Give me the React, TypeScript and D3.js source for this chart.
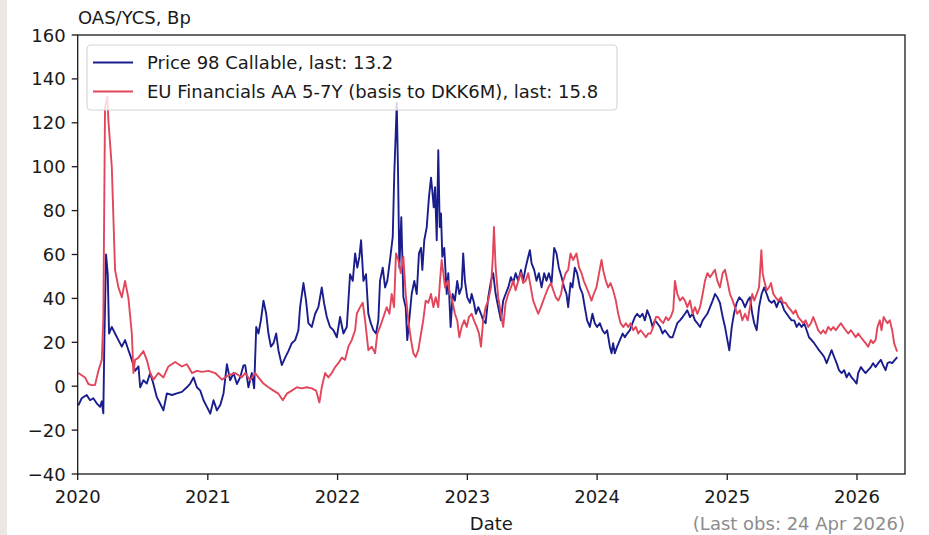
import React from "react";
import * as d3 from "d3";

// [decimal year, value in bp]
const priceCallable: [number, number][] = [
  [2020.005,-8.7],[2020.031,-5.5],[2020.069,-4],[2020.095,-6.4],[2020.120,-5.5],[2020.146,-7.8],[2020.172,-9.4],[2020.185,-6.9],[2020.197,-12.4],[2020.205,21],[2020.218,60],[2020.231,51],[2020.241,24],[2020.262,27],[2020.287,24],[2020.313,21],[2020.339,18],[2020.364,21],[2020.390,16.4],[2020.416,12],[2020.441,7],[2020.467,9],[2020.480,-0.5],[2020.505,2.7],[2020.531,1.2],[2020.557,6],[2020.582,1],[2020.608,-5],[2020.634,-8],[2020.659,-11],[2020.685,-3.3],[2020.724,-4],[2020.762,-3.3],[2020.801,-2.6],[2020.839,-0.5],[2020.865,1.2],[2020.890,4],[2020.916,-0.5],[2020.942,-2],[2020.967,-6.4],[2020.993,-9.4],
  [2021.019,-12.5],[2021.044,-6.4],[2021.070,-11],[2021.096,-8.6],[2021.121,-3.3],[2021.147,10],[2021.172,2.7],[2021.198,6],[2021.224,1],[2021.249,4],[2021.275,9.5],[2021.288,9.6],[2021.313,-0.5],[2021.339,6],[2021.357,-1],[2021.373,27],[2021.390,24],[2021.409,30],[2021.429,39],[2021.450,33],[2021.467,24],[2021.486,18],[2021.506,19.6],[2021.527,24],[2021.544,16.4],[2021.570,9.6],[2021.596,13],[2021.621,16],[2021.647,19.6],[2021.673,21],[2021.698,25.5],[2021.711,36],[2021.737,47],[2021.757,39],[2021.775,28.7],[2021.801,27],[2021.827,33],[2021.852,36],[2021.878,45],[2021.896,37.8],[2021.917,31.5],[2021.942,27],[2021.968,25.5],[2021.994,22.3],
  [2022.019,31.5],[2022.045,24],[2022.071,27],[2022.096,51],[2022.117,48],[2022.135,60.5],[2022.152,54],[2022.168,59],[2022.181,66.5],[2022.199,48],[2022.219,51],[2022.237,33],[2022.256,28.7],[2022.276,25.5],[2022.296,24],[2022.314,30],[2022.327,48],[2022.348,54],[2022.366,45],[2022.383,48],[2022.404,57.6],[2022.425,68],[2022.437,97],[2022.448,115],[2022.456,129],[2022.466,97],[2022.476,54],[2022.491,77],[2022.507,40.5],[2022.525,36],[2022.537,21],[2022.550,28.7],[2022.571,42],[2022.591,48],[2022.610,42],[2022.627,60.5],[2022.643,63],[2022.653,53],[2022.668,66.5],[2022.687,72.5],[2022.704,86],[2022.720,95],[2022.730,89],[2022.741,81.5],[2022.751,90.7],[2022.764,66.5],[2022.776,107.5],[2022.787,72.5],[2022.797,78.7],[2022.807,59],[2022.822,63],[2022.841,42],[2022.853,51.5],[2022.871,27],[2022.887,42],[2022.904,39],[2022.922,48],[2022.938,42],[2022.956,45],[2022.968,60.5],[2022.981,48],[2022.999,40.5],
  [2023.020,38],[2023.033,42],[2023.051,38],[2023.066,33],[2023.084,36],[2023.105,33],[2023.122,30],[2023.141,28.7],[2023.161,40.5],[2023.182,48],[2023.199,51.5],[2023.218,42],[2023.238,36],[2023.259,30],[2023.276,39],[2023.295,42],[2023.315,45],[2023.336,49.7],[2023.353,47],[2023.372,51.5],[2023.392,48],[2023.413,53],[2023.430,48],[2023.449,54],[2023.469,59],[2023.482,62],[2023.495,56],[2023.515,53],[2023.533,48],[2023.551,51.5],[2023.572,45],[2023.592,51.5],[2023.610,48],[2023.628,51.5],[2023.649,47],[2023.669,63],[2023.687,60.5],[2023.705,54],[2023.726,49.7],[2023.746,45],[2023.764,42],[2023.777,36],[2023.795,47],[2023.810,45],[2023.828,54],[2023.846,51.5],[2023.867,45],[2023.888,42],[2023.905,36],[2023.923,30],[2023.944,27],[2023.964,33],[2023.982,28.7],
  [2024.000,27],[2024.021,28.7],[2024.041,25.5],[2024.059,24],[2024.077,25.5],[2024.098,18],[2024.111,15],[2024.123,19.6],[2024.136,15],[2024.154,18],[2024.175,21],[2024.196,24],[2024.213,22.3],[2024.231,24],[2024.252,25.5],[2024.272,28.7],[2024.290,31.5],[2024.308,33],[2024.329,31.5],[2024.349,33],[2024.367,30],[2024.385,34.6],[2024.406,31.5],[2024.426,27],[2024.444,30],[2024.462,28.7],[2024.483,27],[2024.503,24],[2024.521,25.5],[2024.539,24],[2024.560,22.3],[2024.580,22.3],[2024.598,25.5],[2024.616,28.7],[2024.637,30],[2024.657,31.5],[2024.675,33],[2024.693,34.6],[2024.714,31.5],[2024.734,33],[2024.752,30],[2024.770,28.7],[2024.791,27],[2024.811,30],[2024.829,31.5],[2024.847,33],[2024.868,36],[2024.888,39],[2024.906,42],[2024.924,40.5],[2024.944,38],[2024.965,31.5],[2024.983,27],
  [2025.001,21],[2025.016,16.4],[2025.035,27],[2025.052,33],[2025.073,38],[2025.093,40.5],[2025.116,39],[2025.137,36],[2025.158,39],[2025.175,40.5],[2025.193,33],[2025.208,28.7],[2025.227,25.5],[2025.245,36],[2025.265,42],[2025.285,45],[2025.304,42],[2025.322,39],[2025.342,38],[2025.362,39],[2025.381,36],[2025.399,39],[2025.419,38],[2025.439,34.6],[2025.458,33],[2025.476,31.5],[2025.496,30],[2025.516,30],[2025.535,27],[2025.553,28.7],[2025.573,27],[2025.593,28.7],[2025.612,25.5],[2025.630,22.3],[2025.650,21],[2025.670,19.6],[2025.689,18],[2025.707,16.4],[2025.727,15],[2025.747,13.3],[2025.766,10.5],[2025.784,13.3],[2025.804,16.4],[2025.824,13.3],[2025.843,10.5],[2025.861,7.3],[2025.881,6],[2025.901,7.3],[2025.920,4],[2025.938,6],[2025.958,4],[2025.978,2.7],[2025.997,1.2],
  [2026.009,6],[2026.030,8.7],[2026.047,7.3],[2026.066,6],[2026.086,7.3],[2026.107,8.7],[2026.124,10.5],[2026.143,8.7],[2026.163,10.5],[2026.184,12],[2026.201,9.6],[2026.220,7.3],[2026.235,10.5],[2026.253,11],[2026.271,10.5],[2026.292,12],[2026.310,13.2],
];

const euFinancials: [number, number][] = [
  [2020.005,6],[2020.031,5],[2020.056,4],[2020.082,1],[2020.108,0.5],[2020.133,0.5],[2020.159,7],[2020.185,12],[2020.197,31],[2020.210,127],[2020.228,132],[2020.236,121],[2020.262,100],[2020.287,53],[2020.313,45],[2020.339,40.5],[2020.364,48],[2020.390,40],[2020.416,24],[2020.428,6],[2020.441,12],[2020.467,13],[2020.505,16],[2020.531,12],[2020.557,6],[2020.582,3],[2020.620,6],[2020.659,4],[2020.697,9],[2020.749,11],[2020.801,9],[2020.839,10],[2020.878,6],[2020.916,7],[2020.955,6.5],
  [2021.005,7],[2021.057,6],[2021.109,3],[2021.159,5],[2021.211,6],[2021.262,4],[2021.288,6],[2021.326,2.7],[2021.365,6],[2021.390,4],[2021.429,1.2],[2021.467,-0.5],[2021.506,-2],[2021.544,-3.4],[2021.578,-6.4],[2021.609,-3.4],[2021.647,-2],[2021.686,-0.5],[2021.724,-1],[2021.763,-0.5],[2021.801,-1],[2021.834,-2],[2021.860,-7.4],[2021.878,-0.5],[2021.904,6],[2021.929,4],[2021.955,6],[2021.981,8.7],
  [2022.006,10.5],[2022.032,13],[2022.058,12],[2022.083,18],[2022.109,21],[2022.135,25.5],[2022.148,33],[2022.173,36],[2022.194,38],[2022.212,30],[2022.237,16.4],[2022.263,18],[2022.289,15],[2022.306,24],[2022.327,27],[2022.353,31.5],[2022.379,36],[2022.399,33],[2022.417,42],[2022.435,36],[2022.450,60.5],[2022.468,57.5],[2022.487,51.5],[2022.507,59],[2022.525,42],[2022.545,30],[2022.566,21],[2022.584,15],[2022.602,13.3],[2022.622,16.4],[2022.643,24],[2022.660,30],[2022.679,39],[2022.699,38],[2022.720,42],[2022.738,36],[2022.756,40.5],[2022.776,36],[2022.789,48],[2022.802,57.5],[2022.815,51.5],[2022.828,45],[2022.849,48],[2022.866,42],[2022.884,39],[2022.904,33],[2022.922,30],[2022.938,22.3],[2022.956,27],[2022.976,30],[2022.995,27],
  [2023.012,31.5],[2023.033,33],[2023.051,30],[2023.072,27],[2023.090,24],[2023.105,18],[2023.122,30],[2023.141,36],[2023.161,39],[2023.182,45],[2023.195,57.5],[2023.205,72.5],[2023.218,54],[2023.238,40.5],[2023.259,33],[2023.276,27],[2023.295,38],[2023.315,42],[2023.336,45],[2023.353,48],[2023.372,43.7],[2023.392,48],[2023.413,51.5],[2023.430,47],[2023.449,48],[2023.469,51.5],[2023.489,45],[2023.507,39],[2023.526,36],[2023.546,33],[2023.567,36],[2023.585,39],[2023.604,42],[2023.624,45],[2023.644,47],[2023.662,43.7],[2023.681,40.5],[2023.701,39],[2023.722,42],[2023.739,48],[2023.758,51.5],[2023.777,53],[2023.795,60.5],[2023.815,57.5],[2023.841,60.5],[2023.861,54],[2023.880,51.5],[2023.897,48],[2023.918,45],[2023.938,42],[2023.957,39],[2023.974,42],[2023.995,45],
  [2024.015,51.5],[2024.034,57.5],[2024.046,53],[2024.067,48],[2024.085,45],[2024.103,47],[2024.123,43.7],[2024.144,39],[2024.162,33],[2024.180,28.7],[2024.201,27],[2024.221,28.7],[2024.239,27],[2024.257,28.7],[2024.277,25.5],[2024.298,27],[2024.316,24],[2024.334,25.5],[2024.354,24],[2024.375,22.3],[2024.393,24],[2024.411,24],[2024.431,27],[2024.452,31.5],[2024.470,31.5],[2024.488,30],[2024.508,28.7],[2024.529,31.5],[2024.547,30],[2024.565,31.5],[2024.585,34.6],[2024.598,48],[2024.616,42],[2024.637,39],[2024.657,40.5],[2024.675,39],[2024.693,36],[2024.714,39],[2024.734,33],[2024.752,36],[2024.770,33],[2024.791,36],[2024.811,42],[2024.829,48],[2024.847,51.5],[2024.868,49.7],[2024.888,51.5],[2024.906,53],[2024.924,48],[2024.944,45],[2024.965,51.5],[2024.983,53],
  [2025.001,48],[2025.021,42],[2025.042,39],[2025.059,36],[2025.077,33],[2025.098,34.6],[2025.116,30],[2025.137,33],[2025.158,30],[2025.175,36],[2025.193,42],[2025.208,39],[2025.227,42],[2025.245,45],[2025.255,54],[2025.263,62],[2025.273,51.5],[2025.285,48],[2025.304,43.7],[2025.322,45],[2025.337,47],[2025.355,42],[2025.373,40.5],[2025.393,39],[2025.414,40.5],[2025.431,38],[2025.450,38],[2025.470,36],[2025.491,34.6],[2025.509,33],[2025.527,34.6],[2025.547,31.5],[2025.568,30],[2025.586,28.7],[2025.604,30],[2025.624,27],[2025.645,28.7],[2025.663,31.5],[2025.681,28.7],[2025.701,25.5],[2025.722,24],[2025.739,25.5],[2025.758,24],[2025.778,27],[2025.799,25.5],[2025.817,27],[2025.836,25.5],[2025.855,27],[2025.876,28.7],[2025.894,27],[2025.913,25.5],[2025.932,24],[2025.953,25.5],[2025.971,24],[2025.990,22.3],
  [2026.009,24],[2026.030,22.3],[2026.047,21],[2026.066,19.6],[2026.086,18],[2026.107,21],[2026.124,19.6],[2026.143,21],[2026.158,27],[2026.176,30],[2026.189,25.5],[2026.205,31.5],[2026.220,30],[2026.235,28.7],[2026.253,30],[2026.271,25.5],[2026.286,19.6],[2026.305,16.4],[2026.310,15.8],
];

const seriesNames = [
  "Price 98 Callable, last: 13.2",
  "EU Financials AA 5-7Y (basis to DKK6M), last: 15.8",
];
const seriesColors = ["#1a1e8c", "#e2465a"];
const yTickValues = [-40, -20, 0, 20, 40, 60, 80, 100, 120, 140, 160];
const xTickYears = [2020, 2021, 2022, 2023, 2024, 2025, 2026];
const yAxisTitle = "OAS/YCS, Bp";
const xAxisTitle = "Date";
const footnote = "(Last obs: 24 Apr 2026)";
const xDomainStart = "2020-01-01";
const xDomainEnd = "2026-05-16";

const W = 929;
const H = 535;
const M = { left: 77.7, right: 905, top: 35, bottom: 474 };
const FONT = "'DejaVu Sans', sans-serif";
const FS = 18;

function yearToDate(t: number): Date {
  const y = Math.floor(t);
  const a = Date.UTC(y, 0, 1);
  const b = Date.UTC(y + 1, 0, 1);
  return new Date(a + (t - y) * (b - a));
}

export default function App() {
  const x = d3
    .scaleUtc()
    .domain([new Date(xDomainStart + "T00:00:00Z"), new Date(xDomainEnd + "T00:00:00Z")])
    .range([M.left, M.right]);
  const y = d3.scaleLinear().domain([-40, 160]).range([M.bottom, M.top]);

  const line = d3
    .line<[number, number]>()
    .x((d) => x(yearToDate(d[0])))
    .y((d) => y(d[1]));

  const series = [priceCallable, euFinancials];
  const fmt = d3.utcFormat("%Y");

  return (
    <svg
      width={W}
      height={H}
      style={{ position: "absolute", left: 0, top: 0, background: "#fff" }}
      fontFamily={FONT}
    >
      <rect x={0} y={0} width={W} height={H} fill="#ffffff" />
      <rect x={0} y={0} width={7} height={H} fill="#ebe7e4" />
      <defs>
        <clipPath id="plotclip">
          <rect x={M.left} y={M.top} width={M.right - M.left} height={M.bottom - M.top} />
        </clipPath>
      </defs>

      <g clipPath="url(#plotclip)">
        {series.map((s, i) => (
          <path
            key={i}
            d={line(s) || ""}
            fill="none"
            stroke={seriesColors[i]}
            strokeWidth={1.9}
            strokeLinejoin="round"
          />
        ))}
      </g>

      {/* axes frame */}
      <rect
        x={M.left}
        y={M.top}
        width={M.right - M.left}
        height={M.bottom - M.top}
        fill="none"
        stroke="#1a1a1a"
        strokeWidth={1.3}
      />

      {/* y ticks */}
      {yTickValues.map((v) => (
        <g key={v}>
          <line x1={M.left - 6} x2={M.left} y1={y(v)} y2={y(v)} stroke="#1a1a1a" strokeWidth={1.3} />
          <text x={M.left - 12} y={y(v) + 6.5} textAnchor="end" fontSize={FS} fill="#1a1a1a">
            {v < 0 ? "\u2212" + Math.abs(v) : String(v)}
          </text>
        </g>
      ))}

      {/* x ticks */}
      {xTickYears.map((yr) => {
        const d = new Date(Date.UTC(yr, 0, 1));
        return (
          <g key={yr}>
            <line x1={x(d)} x2={x(d)} y1={M.bottom} y2={M.bottom + 6} stroke="#1a1a1a" strokeWidth={1.3} />
            <text x={x(d)} y={503} textAnchor="middle" fontSize={FS} fill="#1a1a1a">
              {fmt(d)}
            </text>
          </g>
        );
      })}

      <text x={78} y={24} fontSize={FS} fill="#1a1a1a">
        {yAxisTitle}
      </text>
      <text x={(M.left + M.right) / 2} y={530} textAnchor="middle" fontSize={FS} fill="#1a1a1a">
        {xAxisTitle}
      </text>
      <text x={M.right} y={530} textAnchor="end" fontSize={FS} fill="#8c8c8c">
        {footnote}
      </text>

      {/* legend */}
      <g>
        <rect x={87} y={45} width={530} height={65} rx={4} fill="#ffffff" fillOpacity={0.8} stroke="#d6d6d6" strokeWidth={1.2} />
        {seriesNames.map((name, i) => {
          const cy = 62.5 + i * 29;
          return (
            <g key={name}>
              <line x1={93} x2={133} y1={cy} y2={cy} stroke={seriesColors[i]} strokeWidth={1.9} />
              <text x={147} y={cy + 6.5} fontSize={FS} fill="#1a1a1a">
                {name}
              </text>
            </g>
          );
        })}
      </g>
    </svg>
  );
}
